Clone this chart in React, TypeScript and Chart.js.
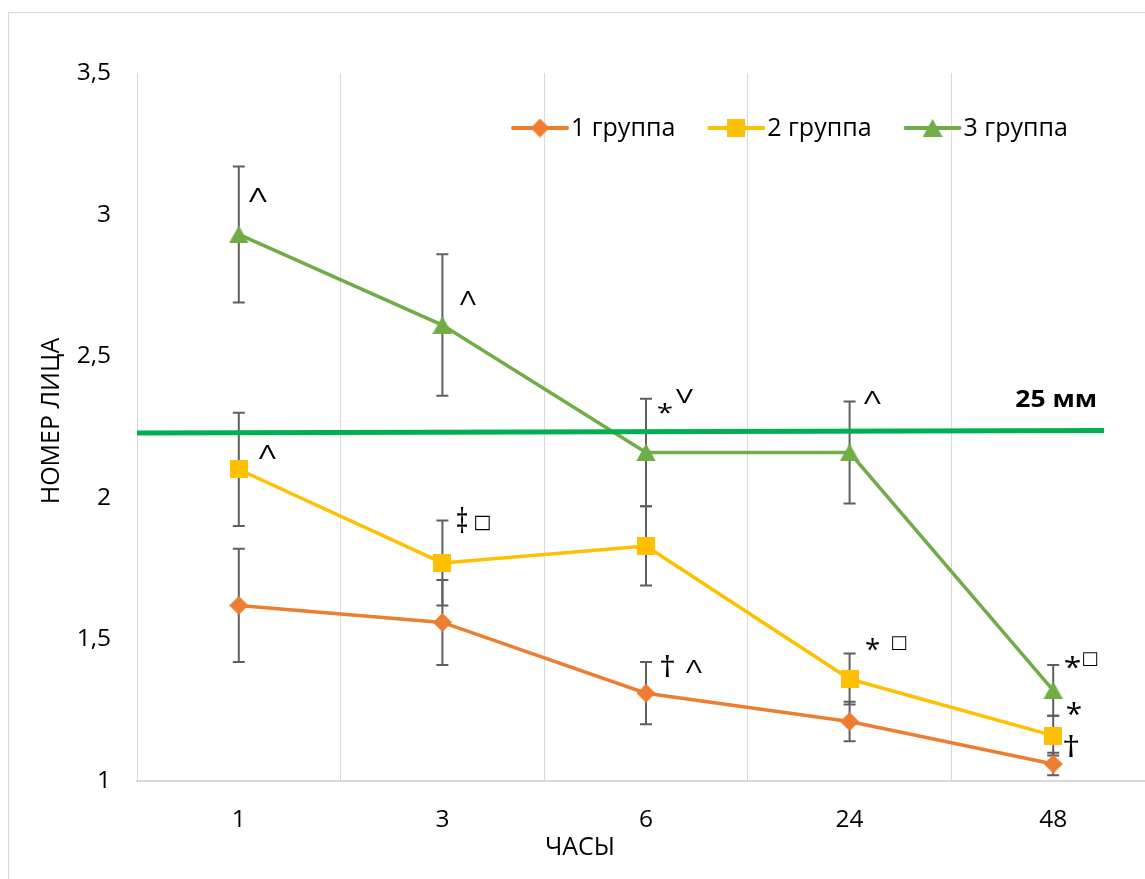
import React, { useEffect, useRef } from 'react';
import { Chart, registerables } from 'chart.js';

Chart.register(...registerables);

// ---------- data ----------
const CATEGORIES = ['1', '3', '6', '24', '48'];
const SERIES_NAMES = ['1 группа', '2 группа', '3 группа'];
const GROUP1 = [1.62, 1.56, 1.31, 1.21, 1.06];
const GROUP1_ERR = [0.2, 0.15, 0.11, 0.07, 0.04];
const GROUP2 = [2.1, 1.77, 1.83, 1.36, 1.16];
const GROUP2_ERR = [0.2, 0.15, 0.14, 0.09, 0.07];
const GROUP3 = [2.93, 2.61, 2.16, 2.16, 1.32];
const GROUP3_ERR = [0.24, 0.25, 0.19, 0.18, 0.09];
const Y_TICKS = [1, 1.5, 2, 2.5, 3, 3.5];
const THRESHOLD_VALUES = [2.229, 2.238]; // at start / end of the reference line
const THRESHOLD_SPAN = [-0.5, 4.25]; // in category-index units
const THRESHOLD_LABEL = '25 мм';
const X_TITLE = 'ЧАСЫ';
const Y_TITLE = 'НОМЕР ЛИЦА';

const SERIES_VALUES = [GROUP1, GROUP2, GROUP3];
const SERIES_ERRORS = [GROUP1_ERR, GROUP2_ERR, GROUP3_ERR];

// ---------- style ----------
const COLORS = ['#ED7D31', '#FFC000', '#70AD47'];
const MARKERS = ['diamond', 'square', 'triangle'];
const THRESHOLD_COLOR = '#00B050';
const ERR_COLOR = '#5f5f5f';
const GRID_COLOR = '#d9d9d9';
const FONT = "'Open Sans', 'DejaVu Sans', sans-serif";

// significance marks: glyph ink box (left offset, centre offset, width, height) relative to a point
const ANNOTATIONS = [
  { series: 2, index: 0, text: 'Λ', dx: 10.2, dy: -39.4, w: 18, h: 14 },
  { series: 2, index: 1, text: 'Λ', dx: 17.6, dy: -27, w: 16, h: 14 },
  { series: 2, index: 2, text: '*', dx: 12, dy: -45, w: 14, h: 11 },
  { series: 2, index: 2, text: 'V', dx: 30, dy: -57, w: 17, h: 15 },
  { series: 2, index: 3, text: 'Λ', dx: 14.4, dy: -54.5, w: 17, h: 13 },
  { series: 1, index: 0, text: 'Λ', dx: 20.2, dy: -17.5, w: 17, h: 14 },
  { series: 1, index: 1, text: '‡', dx: 14.6, dy: -42.9, w: 10, h: 26 },
  { series: 1, index: 1, text: '□', dx: 32.6, dy: -40.4, w: 15, h: 15 },
  { series: 0, index: 2, text: '†', dx: 15, dy: -27.7, w: 13, h: 23 },
  { series: 0, index: 2, text: 'Λ', dx: 40, dy: -26.7, w: 16, h: 13 },
  { series: 1, index: 3, text: '*', dx: 16.4, dy: -35, w: 13, h: 12 },
  { series: 1, index: 3, text: '□', dx: 42.4, dy: -36, w: 14, h: 14 },
  { series: 2, index: 4, text: '*', dx: 11.8, dy: -28.4, w: 15, h: 12 },
  { series: 2, index: 4, text: '□', dx: 29.8, dy: -31.4, w: 14, h: 14 },
  { series: 1, index: 4, text: '*', dx: 13.8, dy: -27.2, w: 14, h: 13 },
  { series: 0, index: 4, text: '†', dx: 11, dy: -18.5, w: 14, h: 23 },
];

function makeMarker(kind: string, color: string): HTMLCanvasElement {
  const c = document.createElement('canvas');
  let w = 19;
  let h = 19;
  if (kind === 'square') { w = 18; h = 18; }
  if (kind === 'triangle') { w = 20; h = 18; }
  c.width = w;
  c.height = h;
  const g = c.getContext('2d')!;
  g.fillStyle = color;
  g.beginPath();
  if (kind === 'diamond') {
    g.moveTo(w / 2, 0); g.lineTo(w, h / 2); g.lineTo(w / 2, h); g.lineTo(0, h / 2);
  } else if (kind === 'square') {
    g.rect(0, 0, w, h);
  } else {
    g.moveTo(w / 2, 0); g.lineTo(w, h); g.lineTo(0, h);
  }
  g.closePath();
  g.fill();
  return c;
}

function drawFitted(ctx: CanvasRenderingContext2D, text: string, weight: string, family: string,
  left: number, cy: number, w: number, h: number, color: string) {
  ctx.save();
  ctx.font = `${weight} 100px ${family}`;
  ctx.textAlign = 'left';
  ctx.textBaseline = 'alphabetic';
  const m = ctx.measureText(text);
  const inkW = m.actualBoundingBoxLeft + m.actualBoundingBoxRight;
  const inkH = m.actualBoundingBoxAscent + m.actualBoundingBoxDescent;
  ctx.translate(left, cy);
  ctx.scale(w / inkW, h / inkH);
  ctx.fillStyle = color;
  ctx.fillText(text, m.actualBoundingBoxLeft, (m.actualBoundingBoxAscent - m.actualBoundingBoxDescent) / 2);
  ctx.restore();
}

export default function App() {
  const ref = useRef<HTMLCanvasElement>(null);

  useEffect(() => {
    const canvas = ref.current;
    if (!canvas) return;
    const markerImgs = MARKERS.map((m, i) => makeMarker(m, COLORS[i]));

    const decorPlugin = {
      id: 'decor',
      beforeDatasetsDraw(chart: any) {
        const ctx = chart.ctx as CanvasRenderingContext2D;
        const ys = chart.scales.y;
        ctx.save();
        ctx.strokeStyle = ERR_COLOR;
        ctx.lineWidth = 2;
        SERIES_VALUES.forEach((vals, d) => {
          const meta = chart.getDatasetMeta(d);
          vals.forEach((v, i) => {
            const x = meta.data[i].x;
            const yt = ys.getPixelForValue(v + SERIES_ERRORS[d][i]);
            const yb = ys.getPixelForValue(v - SERIES_ERRORS[d][i]);
            ctx.beginPath();
            ctx.moveTo(x, yt); ctx.lineTo(x, yb);
            ctx.moveTo(x - 6, yt); ctx.lineTo(x + 6, yt);
            ctx.moveTo(x - 6, yb); ctx.lineTo(x + 6, yb);
            ctx.stroke();
          });
        });
        ctx.restore();
      },
      afterDatasetsDraw(chart: any) {
        const ctx = chart.ctx as CanvasRenderingContext2D;
        const xs = chart.scales.x;
        const ys = chart.scales.y;
        const x1 = xs.getPixelForValue(THRESHOLD_SPAN[0]);
        const x2 = xs.getPixelForValue(THRESHOLD_SPAN[1]);
        const y1 = ys.getPixelForValue(THRESHOLD_VALUES[0]);
        const y2 = ys.getPixelForValue(THRESHOLD_VALUES[1]);
        ctx.save();
        ctx.strokeStyle = THRESHOLD_COLOR;
        ctx.lineWidth = 5;
        ctx.beginPath();
        ctx.moveTo(x1, y1);
        ctx.lineTo(x2, y2);
        ctx.stroke();
        ctx.restore();
        drawFitted(ctx, THRESHOLD_LABEL, 'bold', FONT, x2 - 88, y2 - 32, 79, 17, '#000');
      },
      afterDraw(chart: any) {
        const ctx = chart.ctx as CanvasRenderingContext2D;
        const area = chart.chartArea;
        // significance marks
        ANNOTATIONS.forEach((a) => {
          const pt = chart.getDatasetMeta(a.series).data[a.index];
          const family = a.text === '□' ? "'DejaVu Sans'" : FONT;
          drawFitted(ctx, a.text, 'normal', family, pt.x + a.dx, pt.y + a.dy, a.w, a.h, '#000');
        });
        // legend
        ctx.save();
        ctx.font = `25px ${FONT}`;
        ctx.textAlign = 'left';
        ctx.textBaseline = 'alphabetic';
        let lx = area.left + 376;
        const ly = area.top + 55;
        SERIES_NAMES.forEach((name, d) => {
          ctx.strokeStyle = COLORS[d];
          ctx.lineWidth = 4;
          ctx.lineCap = 'round';
          ctx.beginPath();
          ctx.moveTo(lx, ly);
          ctx.lineTo(lx + 54, ly);
          ctx.stroke();
          const img = markerImgs[d];
          ctx.drawImage(img, lx + 27 - img.width / 2, ly - img.height / 2);
          ctx.fillStyle = '#000';
          ctx.fillText(name, lx + 58, ly + 8.3);
          lx += 58 + ctx.measureText(name).width + 34;
        });
        // axis titles
        ctx.fillStyle = '#000';
        ctx.textAlign = 'center';
        ctx.fillText(X_TITLE, area.left + 443, area.bottom + 74);
        ctx.translate(area.left - 78, area.top + 348);
        ctx.rotate(-Math.PI / 2);
        ctx.fillText(Y_TITLE, 0, 0);
        ctx.restore();
      },
    };

    const chart = new Chart(canvas, {
      type: 'line',
      data: {
        labels: CATEGORIES,
        datasets: SERIES_VALUES.map((vals, d) => ({
          label: SERIES_NAMES[d],
          data: vals,
          borderColor: COLORS[d],
          backgroundColor: COLORS[d],
          borderWidth: 3.5,
          pointStyle: markerImgs[d] as any,
          pointRadius: 9,
          pointHoverRadius: 9,
          tension: 0,
          fill: false,
          order: 3 - d,
          clip: false as any,
        })),
      },
      options: {
        responsive: false,
        animation: false,
        devicePixelRatio: 1,
        events: [],
        layout: { padding: { left: 0, top: 73, right: 45, bottom: 0 } },
        plugins: {
          legend: { display: false },
          tooltip: { enabled: false },
          title: { display: false },
        },
        scales: {
          x: {
            type: 'category',
            offset: true,
            grid: { display: true, offset: true, color: GRID_COLOR, lineWidth: 1, drawTicks: false },
            border: { display: true, color: GRID_COLOR, width: 2 },
            ticks: { color: '#000', font: { family: FONT, size: 24.5 }, padding: 24, maxRotation: 0, autoSkip: false },
            afterFit: (s: any) => { s.height = 98; },
          },
          y: {
            type: 'linear',
            min: 1,
            max: 3.5,
            grid: { display: false, drawTicks: false },
            border: { display: false },
            ticks: {
              color: '#000',
              font: { family: FONT, size: 24.5 },
              padding: 26,
              callback: (v: any) => String(v).replace('.', ','),
            },
            afterBuildTicks: (s: any) => { s.ticks = Y_TICKS.map((v) => ({ value: v })); },
            afterFit: (s: any) => { s.width = 137; },
          },
        },
      },
      plugins: [decorPlugin],
    });

    return () => chart.destroy();
  }, []);

  return (
    <div style={{ position: 'fixed', left: 0, top: 0, width: 1145, height: 879, overflow: 'hidden', background: '#fff' }}>
      <div style={{ position: 'absolute', left: 8, top: 12, width: 1300, height: 1000, border: '1px solid #d9d9d9' }} />
      <canvas
        ref={ref}
        width={1200}
        height={879}
        style={{ position: 'absolute', left: 0, top: 0, width: 1200, height: 879, display: 'block' }}
      />
    </div>
  );
}
